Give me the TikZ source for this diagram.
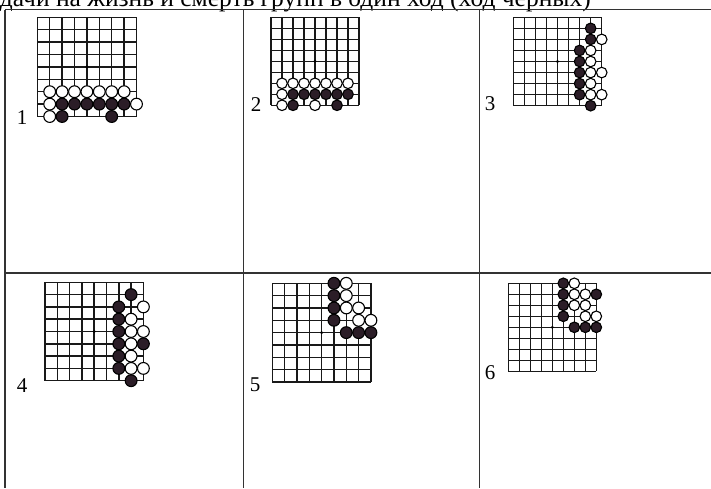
\documentclass[tikz,border=0pt]{standalone}
\usepackage{fontspec}
\setmainfont{Liberation Serif}
\definecolor{blk}{HTML}{2B1D27}
\definecolor{tbl}{HTML}{333333}
\tikzset{
  tableline/.style={draw=tbl,line width=1.4pt},
  gridline/.style={draw=black!90,line width=1.45pt},
  wstone/.style={draw=black,fill=white,line width=1.1pt},
  bstone/.style={draw=black,fill=blk,line width=1.1pt},
  numlabel/.style={font=\fontsize{21}{21}\selectfont,anchor=base,inner sep=0pt},
}
% #1 left, #2 top, #3 spacing, #4 stone radius, #5 white list, #6 black list
\newcommand\goboard[6]{%
  \begin{scope}[shift={(#1,#2)},x=#3pt,y=-#3pt]
    \foreach \k in {0,...,8} {
      \draw[gridline] (\k,0) -- (\k,8);
      \draw[gridline] (0,\k) -- (8,\k);
    }
    \fill[black] (4,4) circle[radius=1.6pt];
    \foreach \c/\r in {#5} \draw[wstone] (\c,\r) circle[radius=#4pt];
    \foreach \c/\r in {#6} \draw[bstone] (\c,\r) circle[radius=#4pt];
  \end{scope}}
\begin{document}
\begin{tikzpicture}[x=1pt,y=-1pt]
\useasboundingbox (0,0) rectangle (711,488);
\fill[white] (0,0) rectangle (711,488);
% title (cut by the top edge)
\node[font=\fontsize{25.5}{25.5}\selectfont,anchor=base east,inner sep=0pt] (title) at (591,6.5) {Задачи на жизнь и смерть групп в один ход (ход черных)};
% table
\coordinate (tl) at (5,9.5);
\coordinate (tr) at (711,9.5);
\coordinate (bl) at (5,488);
\coordinate (ml) at (5,273);
\coordinate (mr) at (711,273);
\coordinate (v1t) at (243.5,9.5);
\coordinate (v1b) at (243.5,488);
\coordinate (v2t) at (479.5,9.5);
\coordinate (v2b) at (479.5,488);
\draw[tableline] (tl) -- (tr);
\draw[tableline] (tl) -- (bl);
\draw[tableline] (ml) -- (mr);
\draw[tableline] (v1t) -- (v1b);
\draw[tableline] (v2t) -- (v2b);
% board 1
\goboard{37.3}{17.3}{12.4}{5.9}
  {1/6,2/6,3/6,4/6,5/6,6/6,7/6,1/7,8/7,1/8}
  {2/7,3/7,4/7,5/7,6/7,7/7,2/8,6/8}
% board 2
\goboard{271}{17.3}{11}{5.3}
  {1/6,2/6,3/6,4/6,5/6,6/6,7/6,1/7,1/8,4/8}
  {2/7,3/7,4/7,5/7,6/7,7/7,2/8,6/8}
% board 3
\goboard{513.3}{17.3}{11.05}{5.3}
  {8/2,7/3,7/4,7/5,8/5,7/6,7/7,8/7}
  {7/1,7/2,6/3,6/4,6/5,6/6,6/7,7/8}
% board 4
\goboard{45}{282.3}{12.3}{5.9}
  {8/2,7/3,7/4,8/4,7/5,7/6,7/7,8/7}
  {7/1,6/2,6/3,6/4,6/5,8/5,6/6,6/7,7/8}
% board 5
\goboard{272.3}{283.3}{12.33}{5.9}
  {6/0,6/1,6/2,7/2,7/3,8/3}
  {5/0,5/1,5/2,5/3,6/4,7/4,8/4}
% board 6
\goboard{508.3}{283.3}{11}{5.3}
  {6/0,6/1,7/1,6/2,7/2,7/3,8/3}
  {5/0,5/1,8/1,5/2,5/3,6/4,7/4,8/4}
% labels
\node[numlabel] (l1) at (22,124) {1};
\node[numlabel] (l2) at (256,111) {2};
\node[numlabel] (l3) at (490,110) {3};
\node[numlabel] (l4) at (22,392) {4};
\node[numlabel] (l5) at (255,391) {5};
\node[numlabel] (l6) at (490,379) {6};
\end{tikzpicture}
\end{document}
